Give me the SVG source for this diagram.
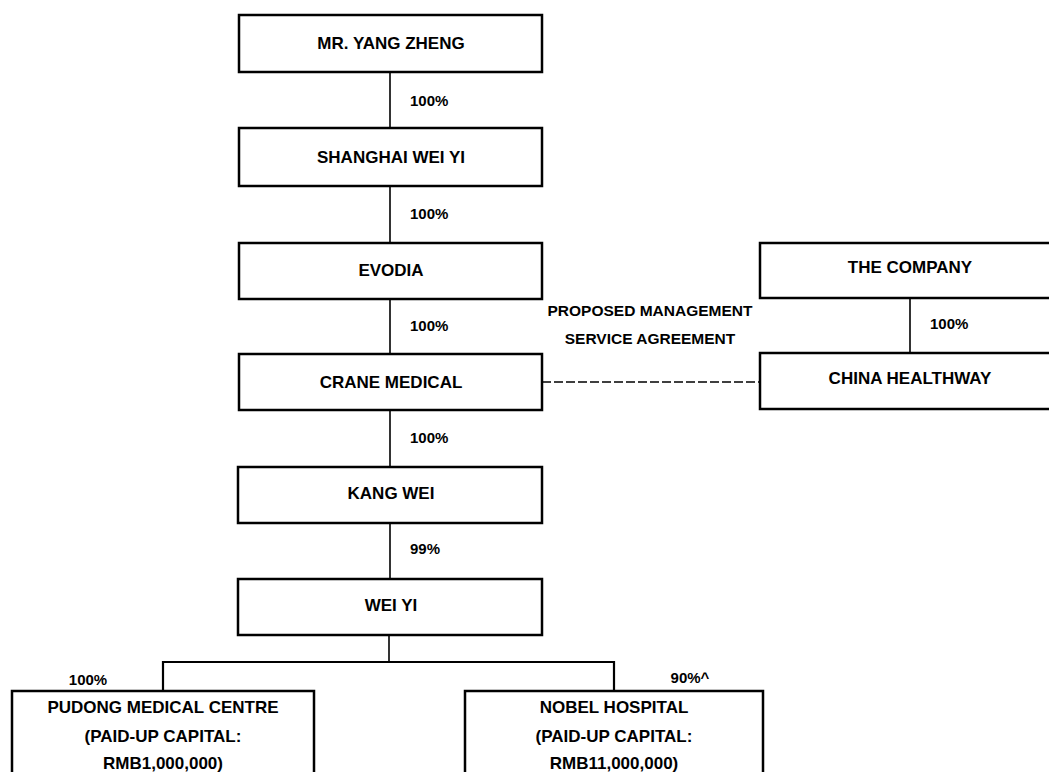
<svg xmlns="http://www.w3.org/2000/svg" width="1049" height="772" viewBox="0 0 1049 772">
<style>
.box{fill:#fff;stroke:#000;stroke-width:2.5}
.t{font-family:"Liberation Sans",Arial,sans-serif;font-weight:bold;font-size:17px;fill:#000;text-anchor:middle;dominant-baseline:central}
.a{font-family:"Liberation Sans",Arial,sans-serif;font-weight:bold;font-size:15.5px;fill:#000;text-anchor:middle;dominant-baseline:central}
.p{font-family:"Liberation Sans",Arial,sans-serif;font-weight:bold;font-size:15px;fill:#000;dominant-baseline:central}
.ln{stroke:#000;stroke-width:1.6;fill:none}
.dash{stroke:#000;stroke-width:1.3;fill:none;stroke-dasharray:9 3}
</style>
<rect width="1049" height="772" fill="#fff"/>
<g id="connectors">
<line class="ln" x1="390" y1="72" x2="390" y2="128"/>
<line class="ln" x1="390" y1="186" x2="390" y2="243"/>
<line class="ln" x1="390" y1="299" x2="390" y2="354"/>
<line class="ln" x1="390" y1="410" x2="390" y2="467"/>
<line class="ln" x1="390" y1="523" x2="390" y2="579"/>
<line class="ln" x1="910" y1="298" x2="910" y2="353"/>
<line class="dash" x1="542" y1="382" x2="760" y2="382"/>
<polyline class="ln" points="389,635 389,662"/>
<polyline class="ln" points="163,691 163,662 614,662 614,691" style="stroke-width:2.2"/>
<text class="p" x="410" y="100">100%</text>
<text class="p" x="410" y="213">100%</text>
<text class="p" x="410" y="325">100%</text>
<text class="p" x="410" y="437">100%</text>
<text class="p" x="410" y="548">99%</text>
<text class="p" x="930" y="323">100%</text>
<text class="a" x="650" y="310">PROPOSED MANAGEMENT</text>
<text class="a" x="650" y="338">SERVICE AGREEMENT</text>
<text class="p" x="88" y="679" text-anchor="middle">100%</text>
<text class="p" x="690" y="677" text-anchor="middle">90%^</text>
</g>
<g id="n1"><rect class="box" x="239" y="15" width="303" height="57"/><text class="t" x="391" y="43">MR. YANG ZHENG</text></g>
<g id="n2"><rect class="box" x="239" y="128" width="303" height="58"/><text class="t" x="391" y="157">SHANGHAI WEI YI</text></g>
<g id="n3"><rect class="box" x="239" y="243" width="303" height="56"/><text class="t" x="391" y="270">EVODIA</text></g>
<g id="n4"><rect class="box" x="239" y="354" width="303" height="56"/><text class="t" x="391" y="382">CRANE MEDICAL</text></g>
<g id="n5"><rect class="box" x="238" y="467" width="304" height="56"/><text class="t" x="391" y="493">KANG WEI</text></g>
<g id="n6"><rect class="box" x="238" y="579" width="304" height="56"/><text class="t" x="391" y="605">WEI YI</text></g>
<g id="n7"><rect class="box" x="760" y="243" width="300" height="55"/><text class="t" x="910" y="267">THE COMPANY</text></g>
<g id="n8"><rect class="box" x="760" y="353" width="300" height="56"/><text class="t" x="910" y="378">CHINA HEALTHWAY</text></g>
<g id="n9"><rect class="box" x="12" y="691" width="302" height="100"/><text class="t" x="163" y="707">PUDONG MEDICAL CENTRE</text><text class="t" x="163" y="736">(PAID-UP CAPITAL:</text><text class="t" x="163" y="763">RMB1,000,000)</text></g>
<g id="n10"><rect class="box" x="465" y="691" width="298" height="100"/><text class="t" x="614" y="707">NOBEL HOSPITAL</text><text class="t" x="614" y="736">(PAID-UP CAPITAL:</text><text class="t" x="614" y="763">RMB11,000,000)</text></g>
</svg>
